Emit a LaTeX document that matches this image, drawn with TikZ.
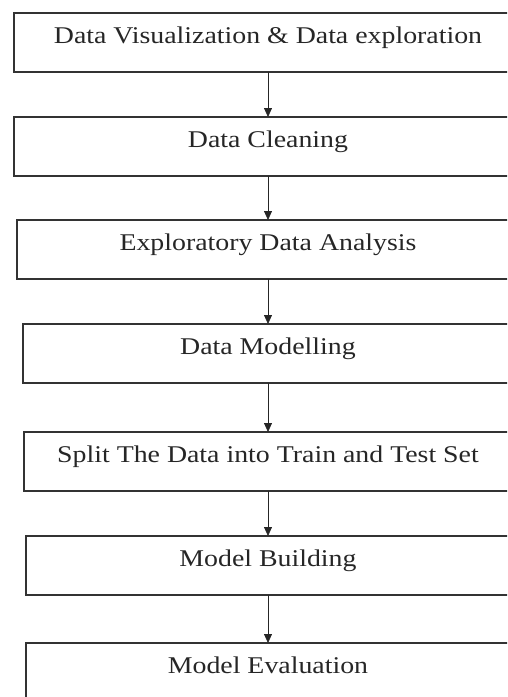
\documentclass[tikz,border=0pt]{standalone}
\usepackage{fontspec}
\setmainfont[FakeStretch=1.16]{Liberation Serif}
\usetikzlibrary{positioning,arrows.meta}

\tikzset{
  stage/.style={draw=black!80, line width=1.6pt, rectangle, inner ysep=0pt, outer sep=0pt,
    text height=30pt, text depth=29pt, text=black!85,
    font=\fontsize{24}{28}\selectfont},
  flow/.style={draw=black!85, line width=0.8pt, -{Triangle[width=8pt,length=9pt]}}
}

\begin{document}
\begin{tikzpicture}
  % Frame of the page
  \useasboundingbox (0,0) rectangle (507pt,-697pt);
  \clip (0,0) rectangle (507pt,-697pt);

  % Pipeline stages
  \node[stage, minimum width=508pt, anchor=north] (vis) at (268pt,-13pt) {Data Visualization \& Data exploration};
  \node[stage, minimum width=508pt, below=45pt of vis] (clean) {Data Cleaning};
  \node[stage, minimum width=502pt, below=44pt of clean] (eda) {Exploratory Data Analysis};
  \node[stage, minimum width=490pt, below=45pt of eda] (modelling) {Data Modelling};
  \node[stage, minimum width=488pt, below=49pt of modelling] (split) {Split The Data into Train and Test Set};
  \node[stage, minimum width=484pt, below=45pt of split] (build) {Model Building};
  \node[stage, minimum width=484pt, below=48pt of build] (eval) {Model Evaluation};

  % Arrows between stages
  \draw[flow] (vis) -- (clean);
  \draw[flow] (clean) -- (eda);
  \draw[flow] (eda) -- (modelling);
  \draw[flow] (modelling) -- (split);
  \draw[flow] (split) -- (build);
  \draw[flow] (build) -- (eval);

\end{tikzpicture}
\end{document}
